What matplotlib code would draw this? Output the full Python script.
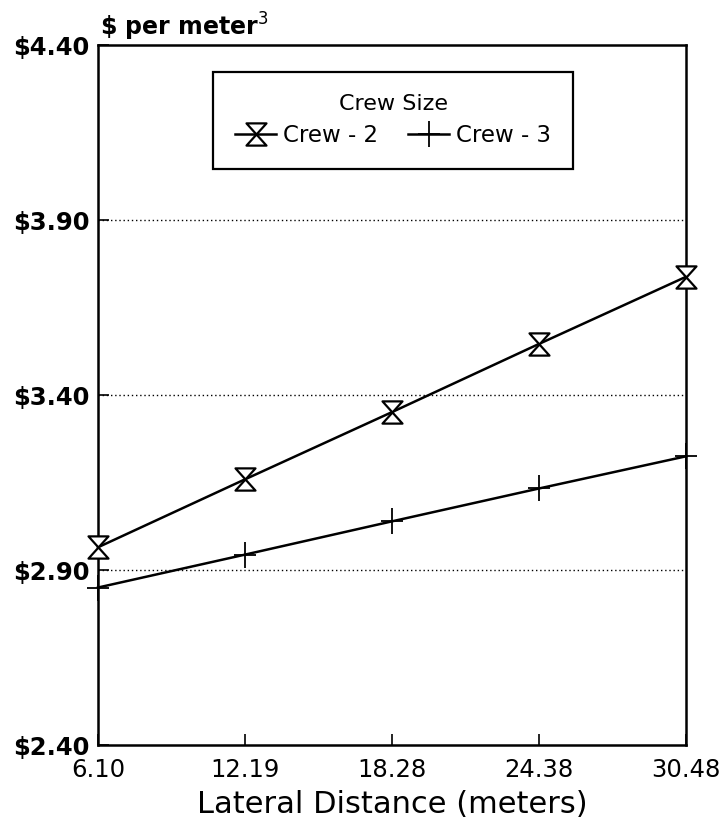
import matplotlib
matplotlib.use("Agg")
import matplotlib.pyplot as plt
from matplotlib.path import Path

# lateral distance (meters) and cost ($ per cubic meter)
distance = [6.10, 12.19, 18.28, 24.38, 30.48]
crew2 = [2.965, 3.159, 3.351, 3.546, 3.738]
crew3 = [2.850, 2.944, 3.039, 3.133, 3.225]
x_labels = ["6.10", "12.19", "18.28", "24.38", "30.48"]
y_ticks = [2.40, 2.90, 3.40, 3.90, 4.40]
y_labels = ["$2.40", "$2.90", "$3.40", "$3.90", "$4.40"]

# hourglass marker: two triangles meeting at the point
hourglass = Path([(-0.9, 1), (0.9, 1), (-0.9, -1), (0.9, -1), (-0.9, 1)],
                 [Path.MOVETO, Path.LINETO, Path.LINETO, Path.LINETO, Path.CLOSEPOLY])
# cross with a longer vertical arm
cross = Path([(0, -1), (0, 1), (-0.8, 0), (0.8, 0)],
             [Path.MOVETO, Path.LINETO, Path.MOVETO, Path.LINETO])

plt.rcParams['font.family'] = ['DejaVu Sans']

fig = plt.figure(figsize=(7.23, 8.26), dpi=100)
ax = fig.add_axes([0.1355, 0.098, 0.8135, 0.8475])

ax.plot(distance, crew2, color='black', lw=1.8, marker=hourglass, ms=16,
        mfc='white', mec='black', mew=1.6, label='Crew - 2', clip_on=False, zorder=3)
ax.plot(distance, crew3, color='black', lw=1.8, marker=cross, ms=19,
        mew=1.3, label='Crew - 3', clip_on=False, zorder=3)

ax.set_xlim(6.10, 30.48)
ax.set_ylim(2.40, 4.40)
ax.set_xticks(distance)
ax.set_xticklabels(x_labels, fontsize=17.5)
ax.set_yticks(y_ticks)
ax.set_yticklabels([s.replace("$", r"\$") for s in y_labels], fontsize=17.5, fontweight='bold')
ax.tick_params(direction='in', length=8, width=1.2, pad=6)
ax.tick_params(axis='x', pad=9)

for y in y_ticks[1:-1]:
    ax.axhline(y, color='black', lw=1.0, ls=(0, (1, 2)), zorder=1)

for sp in ax.spines.values():
    sp.set_linewidth(1.8)

ax.set_xlabel("Lateral Distance (meters)", fontsize=22, labelpad=6)
fig.text(0.138, 0.9564, r"\$ per meter$^3$", fontsize=17, fontweight='bold',
         ha='left', va='baseline')

leg = ax.legend(loc='upper center', bbox_to_anchor=(0.502, 0.9614), ncol=2,
                title='Crew Size', fontsize=16.5, title_fontsize=16,
                fancybox=False, edgecolor='black', framealpha=1,
                handlelength=1.8, columnspacing=1.3, borderpad=0.95,
                handletextpad=0.3, labelspacing=0.45, borderaxespad=0)
leg.get_frame().set_linewidth(1.6)

fig.savefig("out.png", dpi=100)
